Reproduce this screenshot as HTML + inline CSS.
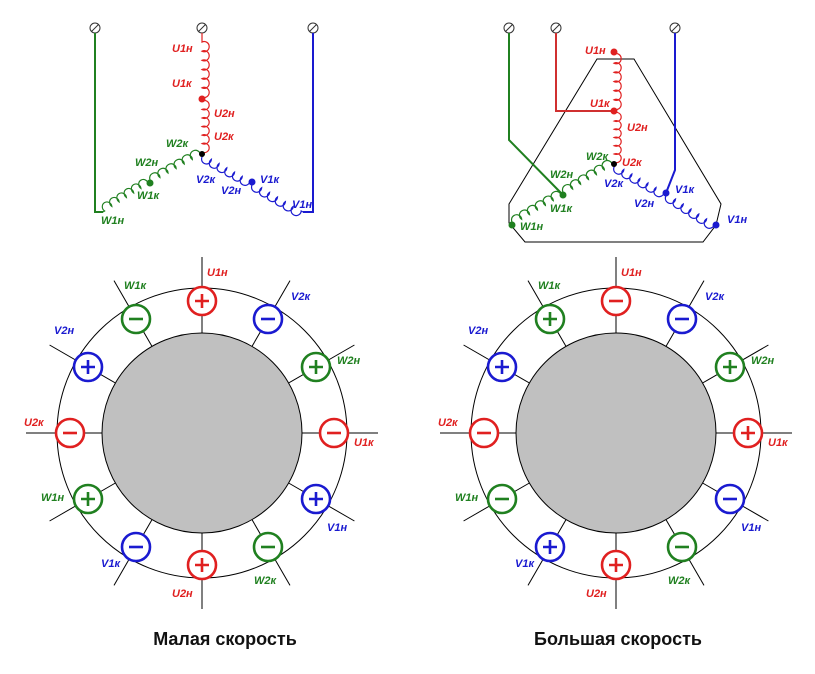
<!DOCTYPE html>
<html><head><meta charset="utf-8"><style>
html,body{margin:0;padding:0;background:#fff}
svg{display:block}
.l{font-family:"Liberation Sans",sans-serif;font-weight:bold;font-style:italic;font-size:11px}
.r{fill:#e02020}.g{fill:#208020}.b{fill:#1a1ad0}
.t{font-family:"Liberation Sans",sans-serif;font-weight:bold;font-size:18px;fill:#111}
</style></head><body>
<svg width="815" height="674" viewBox="0 0 815 674" xmlns="http://www.w3.org/2000/svg">
<defs>
<path id="cu" d="M0,0 h2 a5,5 0 1 1 9,0 a5,5 0 1 1 9,0 a5,5 0 1 1 9,0 a5,5 0 1 1 9,0 a5,5 0 1 1 9,0 a5,5 0 1 1 9,0 h2" fill="none"/>
<path id="cd" d="M0,0 h2 a5,5 0 1 0 9,0 a5,5 0 1 0 9,0 a5,5 0 1 0 9,0 a5,5 0 1 0 9,0 a5,5 0 1 0 9,0 a5,5 0 1 0 9,0 h2" fill="none"/>
<g id="term"><circle r="5" fill="#fff" stroke="#333" stroke-width="1"/><line x1="-3.5" y1="3.5" x2="3.5" y2="-3.5" stroke="#333" stroke-width="1"/></g>
<g id="rays" stroke="#000" stroke-width="1">
<line x1="202" y1="333" x2="202" y2="257" stroke="#000"/>
<line x1="202" y1="333" x2="202" y2="257" stroke="#000" transform="rotate(30 202 433)"/>
<line x1="202" y1="333" x2="202" y2="257" stroke="#000" transform="rotate(60 202 433)"/>
<line x1="202" y1="333" x2="202" y2="257" stroke="#000" transform="rotate(90 202 433)"/>
<line x1="202" y1="333" x2="202" y2="257" stroke="#000" transform="rotate(120 202 433)"/>
<line x1="202" y1="333" x2="202" y2="257" stroke="#000" transform="rotate(150 202 433)"/>
<line x1="202" y1="333" x2="202" y2="257" stroke="#000" transform="rotate(180 202 433)"/>
<line x1="202" y1="333" x2="202" y2="257" stroke="#000" transform="rotate(210 202 433)"/>
<line x1="202" y1="333" x2="202" y2="257" stroke="#000" transform="rotate(240 202 433)"/>
<line x1="202" y1="333" x2="202" y2="257" stroke="#000" transform="rotate(270 202 433)"/>
<line x1="202" y1="333" x2="202" y2="257" stroke="#000" transform="rotate(300 202 433)"/>
<line x1="202" y1="333" x2="202" y2="257" stroke="#000" transform="rotate(330 202 433)"/>
</g>
</defs>

<!-- ===== Top-left star ===== -->
<use href="#term" x="95" y="28"/><use href="#term" x="202" y="28"/><use href="#term" x="313" y="28"/>
<polyline points="95,33 95,212 103,212" fill="none" stroke="#208020" stroke-width="2"/>
<polyline points="313,33 313,212 303,212" fill="none" stroke="#1a1ad0" stroke-width="2"/>
<line x1="202" y1="33" x2="202" y2="40" stroke="#e02020" stroke-width="1.2"/>
<g stroke="#e02020" stroke-width="1.2">
<use href="#cu" transform="translate(202,40) rotate(90) scale(1.018,1)"/>
<use href="#cu" transform="translate(202,99) rotate(90) scale(0.95,1)"/>
</g>
<g stroke="#208020" stroke-width="1.2">
<use href="#cu" transform="translate(103,212) rotate(-31.7) scale(0.95,1)"/>
<use href="#cu" transform="translate(150,183) rotate(-29) scale(1.03,1)"/>
</g>
<g stroke="#1a1ad0" stroke-width="1.2">
<use href="#cd" transform="translate(202,154) rotate(29) scale(0.98,1)"/>
<use href="#cd" transform="translate(252,182) rotate(30.5) scale(1.02,1)"/>
</g>
<circle cx="202" cy="99" r="3.5" fill="#e02020"/>
<circle cx="150" cy="183" r="3.5" fill="#208020"/>
<circle cx="252" cy="182" r="3.5" fill="#1a1ad0"/>
<circle cx="202" cy="154" r="3" fill="#000"/>
<text class="l r" x="172" y="52">U1н</text>
<text class="l r" x="172" y="87">U1к</text>
<text class="l r" x="214" y="117">U2н</text>
<text class="l r" x="214" y="140">U2к</text>
<text class="l g" x="166" y="147">W2к</text>
<text class="l g" x="135" y="166">W2н</text>
<text class="l g" x="137" y="199">W1к</text>
<text class="l g" x="101" y="224">W1н</text>
<text class="l b" x="196" y="183">V2к</text>
<text class="l b" x="221" y="194">V2н</text>
<text class="l b" x="260" y="183">V1к</text>
<text class="l b" x="292" y="208">V1н</text>

<!-- ===== Top-right ===== -->
<polygon points="597,59 634,59 721,204 716,225 703,242 525,242 509,223 509,204" fill="none" stroke="#000" stroke-width="1"/>
<use href="#term" x="509" y="28"/><use href="#term" x="556" y="28"/><use href="#term" x="675" y="28"/>
<polyline points="556,33 556,111 614,111" fill="none" stroke="#d03030" stroke-width="2"/>
<polyline points="509,33 509,140 563,195" fill="none" stroke="#208020" stroke-width="2"/>
<polyline points="675,33 675,170 666,193" fill="none" stroke="#1a1ad0" stroke-width="2"/>
<g stroke="#e02020" stroke-width="1.2">
<use href="#cu" transform="translate(614,52) rotate(90) scale(1.018,1)"/>
<use href="#cu" transform="translate(614,111) rotate(90) scale(0.915,1)"/>
</g>
<g stroke="#208020" stroke-width="1.2">
<use href="#cu" transform="translate(512,225) rotate(-30.5) scale(1.02,1)"/>
<use href="#cu" transform="translate(563,195) rotate(-31.3) scale(1.03,1)"/>
</g>
<g stroke="#1a1ad0" stroke-width="1.2">
<use href="#cd" transform="translate(614,164) rotate(29.2) scale(1.025,1)"/>
<use href="#cd" transform="translate(666,193) rotate(32.6) scale(1.025,1)"/>
</g>
<circle cx="614" cy="52" r="3.5" fill="#e02020"/>
<circle cx="614" cy="111" r="3.5" fill="#e02020"/>
<circle cx="614" cy="164" r="3" fill="#000"/>
<circle cx="563" cy="195" r="3.5" fill="#208020"/>
<circle cx="512" cy="225" r="3.5" fill="#208020"/>
<circle cx="666" cy="193" r="3.5" fill="#1a1ad0"/>
<circle cx="716" cy="225" r="3.5" fill="#1a1ad0"/>
<text class="l r" x="585" y="54">U1н</text>
<text class="l r" x="590" y="107">U1к</text>
<text class="l r" x="627" y="131">U2н</text>
<text class="l r" x="622" y="166">U2к</text>
<text class="l g" x="586" y="160">W2к</text>
<text class="l g" x="550" y="178">W2н</text>
<text class="l g" x="550" y="212">W1к</text>
<text class="l g" x="520" y="230">W1н</text>
<text class="l b" x="604" y="187">V2к</text>
<text class="l b" x="634" y="207">V2н</text>
<text class="l b" x="675" y="193">V1к</text>
<text class="l b" x="727" y="223">V1н</text>

<!-- ===== Motors ===== -->
<use href="#rays"/>
<use href="#rays" transform="translate(414,0)"/>
<g stroke="#000" stroke-width="1">
<circle cx="202" cy="433" r="145" fill="none"/>
<circle cx="202" cy="433" r="100" fill="#c0c0c0"/>
<circle cx="616" cy="433" r="145" fill="none"/>
<circle cx="616" cy="433" r="100" fill="#c0c0c0"/>
</g>

<g fill="#fff" stroke-width="2.6">
<g stroke="#e02020"><circle cx="202" cy="301" r="14"/><path d="M195,301h14M202,294v14"/></g>
<g stroke="#1a1ad0"><circle cx="268" cy="319" r="14"/><path d="M261,319h14"/></g>
<g stroke="#208020"><circle cx="316" cy="367" r="14"/><path d="M309,367h14M316,360v14"/></g>
<g stroke="#e02020"><circle cx="334" cy="433" r="14"/><path d="M327,433h14"/></g>
<g stroke="#1a1ad0"><circle cx="316" cy="499" r="14"/><path d="M309,499h14M316,492v14"/></g>
<g stroke="#208020"><circle cx="268" cy="547" r="14"/><path d="M261,547h14"/></g>
<g stroke="#e02020"><circle cx="202" cy="565" r="14"/><path d="M195,565h14M202,558v14"/></g>
<g stroke="#1a1ad0"><circle cx="136" cy="547" r="14"/><path d="M129,547h14"/></g>
<g stroke="#208020"><circle cx="88" cy="499" r="14"/><path d="M81,499h14M88,492v14"/></g>
<g stroke="#e02020"><circle cx="70" cy="433" r="14"/><path d="M63,433h14"/></g>
<g stroke="#1a1ad0"><circle cx="88" cy="367" r="14"/><path d="M81,367h14M88,360v14"/></g>
<g stroke="#208020"><circle cx="136" cy="319" r="14"/><path d="M129,319h14"/></g>
<g stroke="#e02020"><circle cx="616" cy="301" r="14"/><path d="M609,301h14"/></g>
<g stroke="#1a1ad0"><circle cx="682" cy="319" r="14"/><path d="M675,319h14"/></g>
<g stroke="#208020"><circle cx="730" cy="367" r="14"/><path d="M723,367h14M730,360v14"/></g>
<g stroke="#e02020"><circle cx="748" cy="433" r="14"/><path d="M741,433h14M748,426v14"/></g>
<g stroke="#1a1ad0"><circle cx="730" cy="499" r="14"/><path d="M723,499h14"/></g>
<g stroke="#208020"><circle cx="682" cy="547" r="14"/><path d="M675,547h14"/></g>
<g stroke="#e02020"><circle cx="616" cy="565" r="14"/><path d="M609,565h14M616,558v14"/></g>
<g stroke="#1a1ad0"><circle cx="550" cy="547" r="14"/><path d="M543,547h14M550,540v14"/></g>
<g stroke="#208020"><circle cx="502" cy="499" r="14"/><path d="M495,499h14"/></g>
<g stroke="#e02020"><circle cx="484" cy="433" r="14"/><path d="M477,433h14"/></g>
<g stroke="#1a1ad0"><circle cx="502" cy="367" r="14"/><path d="M495,367h14M502,360v14"/></g>
<g stroke="#208020"><circle cx="550" cy="319" r="14"/><path d="M543,319h14M550,312v14"/></g>
</g>

<text class="l r" x="207" y="276">U1н</text>
<text class="l b" x="291" y="300">V2к</text>
<text class="l g" x="337" y="364">W2н</text>
<text class="l r" x="354" y="446">U1к</text>
<text class="l b" x="327" y="531">V1н</text>
<text class="l g" x="254" y="584">W2к</text>
<text class="l r" x="172" y="597">U2н</text>
<text class="l b" x="101" y="567">V1к</text>
<text class="l g" x="41" y="501">W1н</text>
<text class="l r" x="24" y="426">U2к</text>
<text class="l b" x="54" y="334">V2н</text>
<text class="l g" x="124" y="289">W1к</text>
<text class="l r" x="621" y="276">U1н</text>
<text class="l b" x="705" y="300">V2к</text>
<text class="l g" x="751" y="364">W2н</text>
<text class="l r" x="768" y="446">U1к</text>
<text class="l b" x="741" y="531">V1н</text>
<text class="l g" x="668" y="584">W2к</text>
<text class="l r" x="586" y="597">U2н</text>
<text class="l b" x="515" y="567">V1к</text>
<text class="l g" x="455" y="501">W1н</text>
<text class="l r" x="438" y="426">U2к</text>
<text class="l b" x="468" y="334">V2н</text>
<text class="l g" x="538" y="289">W1к</text>

<text class="t" x="225" y="645" text-anchor="middle">Малая скорость</text>
<text class="t" x="618" y="645" text-anchor="middle">Большая скорость</text>
</svg>
</body></html>
